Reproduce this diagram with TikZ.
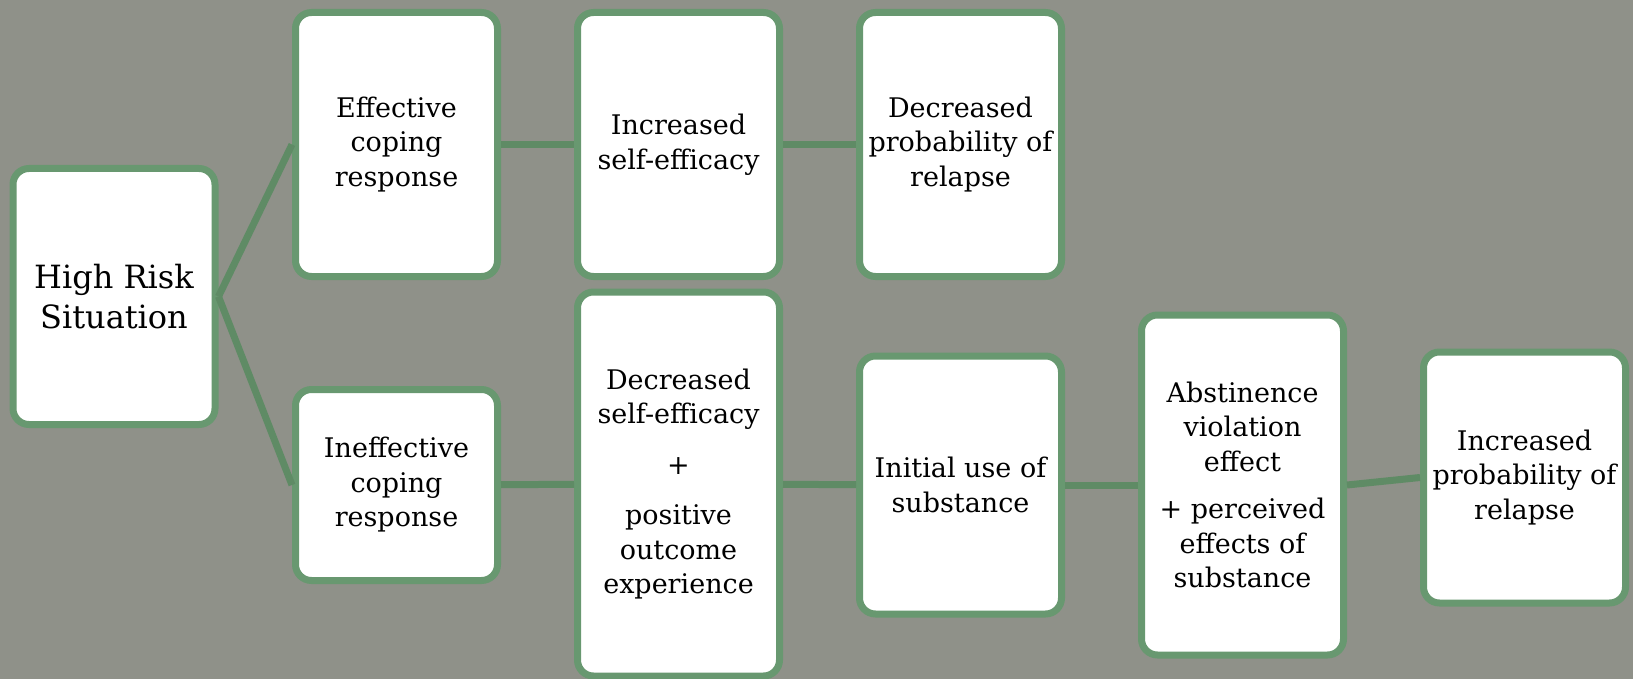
\documentclass[tikz,border=0pt]{standalone}
\usepackage{fontspec}
\setmainfont{DejaVu Serif}
\usetikzlibrary{positioning}
\definecolor{boxgreen}{HTML}{689870}
\definecolor{linkgreen}{HTML}{5F8B65}
\definecolor{slate}{HTML}{8F9189}
\begin{document}
\begin{tikzpicture}[x=1pt, y=1pt,
		every node/.style = {shape=rectangle, rounded corners=16pt, draw=boxgreen,
			line width=7pt, fill=white, align=center, minimum width=202pt,
			inner sep=0pt, font=\fontsize{27}{34.5}\selectfont},
		link/.style = {draw=linkgreen, line width=7pt},
		node distance=73pt]
	\useasboundingbox (0,0) rectangle (1633,-679);
	\fill [slate] (0,0) rectangle (1633,-679);
	% root
	\node (risk) [minimum height=256pt, font=\fontsize{32}{40}\selectfont]
		at (114,-296.5) {High Risk\\Situation};
	% upper branch
	\node (coping) [minimum height=264pt] at (396.5,-144.5) {Effective\\coping\\response};
	\node (selfup) [minimum height=264pt, right=of coping] {Increased\\self-efficacy};
	\node (relapselow) [minimum height=264pt, right=of selfup] {Decreased\\probability of\\relapse};
	% lower branch
	\node (nocoping) [minimum height=191pt] at (396.5,-485) {Ineffective\\coping\\response};
	\node (selfdown) [minimum height=384pt, right=of nocoping, yshift=1pt]
		{Decreased\\self-efficacy\\[16pt]+\\[16pt]positive\\outcome\\experience};
	\node (firstuse) [minimum height=258pt, right=of selfdown, yshift=-1pt] {Initial use of\\substance};
	\node (violation) [minimum height=340pt, right=of firstuse]
		{Abstinence\\violation\\effect\\[13pt]+ perceived\\effects of\\substance};
	\node (relapsehigh) [minimum height=251pt, right=of violation, yshift=7.5pt]
		{Increased\\probability of\\relapse};
	% connectors
	\draw [link] (risk.east) -- (coping.west);
	\draw [link] (risk.east) -- (nocoping.west);
	\draw [link] (coping) -- (selfup);
	\draw [link] (selfup) -- (relapselow);
	\draw [link] (nocoping) -- (selfdown);
	\draw [link] (selfdown) -- (firstuse);
	\draw [link] (firstuse) -- (violation);
	\draw [link] (violation.east) -- (relapsehigh.west);
\end{tikzpicture}
\end{document}
